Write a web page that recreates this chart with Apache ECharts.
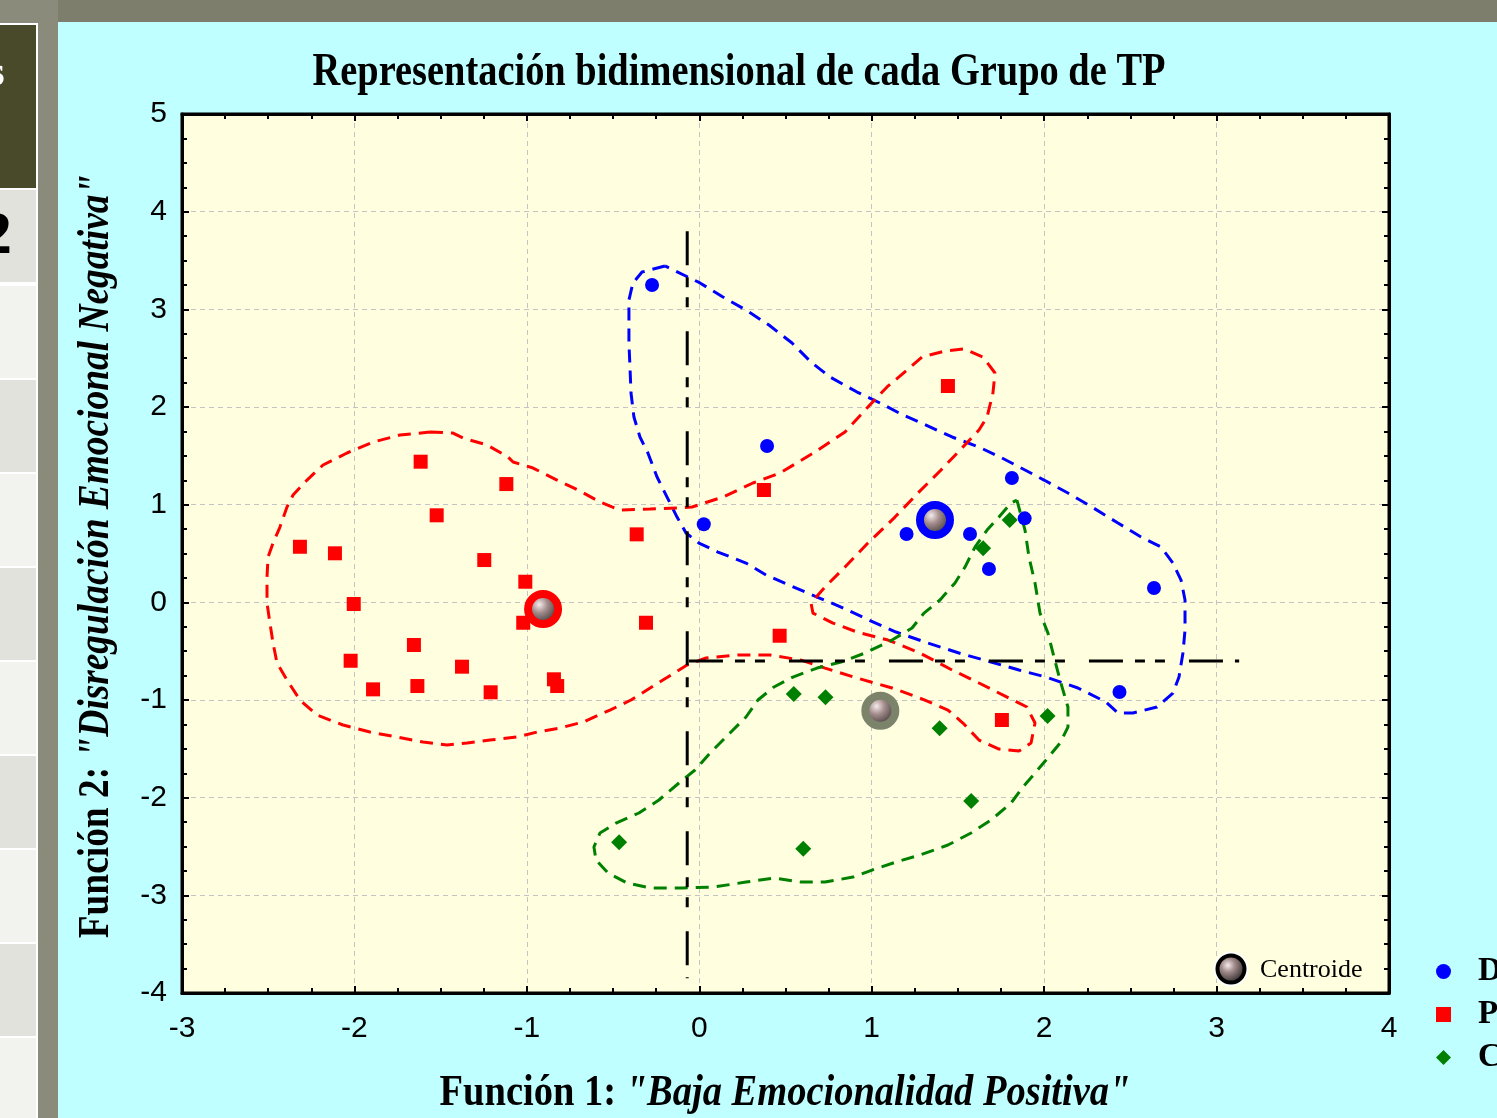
<!DOCTYPE html>
<html><head><meta charset="utf-8">
<script src="https://cdn.jsdelivr.net/npm/echarts@6/dist/echarts.min.js"></script>
<style>html,body{margin:0;padding:0;overflow:hidden;background:#bfffff}#c{width:1497px;height:1118px}</style>
</head><body><div id="c"></div>
<script>
// ---- data ----
const groupNames = ['D', 'P', 'C'];
const dX = [-0.274, 0.393, 0.026, 1.202, 1.570, 1.680, 1.813, 1.887, 2.637, 2.437];
const dY = [3.249, 1.600, 0.799, 0.699, 0.699, 0.341, 1.273, 0.860, 0.146, -0.918];
const pX = [-1.616, -1.119, -1.523, -2.316, -2.113, -1.247, -1.009, -2.004, -1.021, -0.363, -0.309, -1.655, -2.022, -1.376, -1.892, -1.635, -1.210, -0.843, -0.824, 1.442, 0.375, 0.466, 1.755];
const pY = [1.440, 1.211, 0.891, 0.569, 0.502, 0.433, 0.211, -0.017, -0.209, 0.696, -0.209, -0.437, -0.598, -0.659, -0.891, -0.857, -0.921, -0.788, -0.857, 2.215, 1.150, -0.342, -1.205];
const cX = [1.800, 1.646, 0.548, 0.732, 1.394, 2.020, 1.577, -0.465, 0.603];
const cY = [0.843, 0.553, -0.939, -0.973, -1.290, -1.164, -2.034, -2.457, -2.523];
const centroidX = [1.367, -0.906, 1.050];
const centroidY = [0.843, -0.069, -1.110];
const xTicks = [-3, -2, -1, 0, 1, 2, 3, 4];
const yTicks = [-4, -3, -2, -1, 0, 1, 2, 3, 4, 5];
const refVertical = [[-0.070, 3.80], [-0.070, -3.85]];
const refHorizontal = [[-0.060, -0.601], [3.131, -0.601]];
const blueContour = [[-0.199,3.444],[-0.332,3.382],[-0.385,3.270],[-0.408,3.096],[-0.408,2.921],[-0.408,2.655],[-0.402,2.409],[-0.396,2.143],[-0.379,1.897],[-0.344,1.693],[-0.298,1.529],[-0.245,1.283],[-0.187,1.078],[-0.129,0.873],[-0.077,0.710],[-0.002,0.607],[0.108,0.515],[0.271,0.402],[0.387,0.280],[0.520,0.177],[0.683,0.054],[0.822,-0.048],[0.984,-0.181],[1.141,-0.304],[1.326,-0.417],[1.506,-0.519],[1.692,-0.611],[1.854,-0.693],[2.011,-0.765],[2.196,-0.877],[2.359,-1.021],[2.428,-1.133],[2.515,-1.133],[2.654,-1.072],[2.747,-0.929],[2.782,-0.765],[2.805,-0.519],[2.817,-0.284],[2.817,0.024],[2.794,0.228],[2.747,0.402],[2.678,0.566],[2.562,0.669],[2.428,0.812],[2.277,0.976],[2.138,1.119],[1.999,1.252],[1.889,1.355],[1.755,1.478],[1.622,1.590],[1.466,1.693],[1.315,1.815],[1.181,1.918],[1.048,2.041],[0.915,2.153],[0.758,2.307],[0.648,2.460],[0.538,2.655],[0.404,2.839],[0.271,2.993],[0.137,3.126],[0.004,3.270],[-0.066,3.331],[-0.199,3.444]];
const redContour = [[-1.562,1.744],[-1.428,1.733],[-1.370,1.682],[-1.231,1.611],[-1.109,1.488],[-1.080,1.437],[-0.964,1.375],[-0.825,1.252],[-0.703,1.150],[-0.576,1.027],[-0.460,0.945],[-0.286,0.955],[-0.112,0.966],[-0.042,0.976],[0.137,1.078],[0.311,1.222],[0.468,1.324],[0.671,1.539],[0.845,1.744],[0.978,2.000],[1.089,2.205],[1.205,2.379],[1.292,2.512],[1.425,2.573],[1.535,2.594],[1.645,2.512],[1.715,2.348],[1.703,2.143],[1.669,1.897],[1.622,1.764],[1.512,1.559],[1.402,1.355],[1.268,1.119],[1.135,0.873],[0.978,0.607],[0.845,0.361],[0.729,0.157],[0.648,-0.007],[0.659,-0.110],[0.775,-0.212],[0.915,-0.304],[1.094,-0.386],[1.280,-0.519],[1.466,-0.693],[1.622,-0.826],[1.785,-0.970],[1.900,-1.072],[1.947,-1.236],[1.924,-1.441],[1.854,-1.523],[1.738,-1.502],[1.622,-1.410],[1.529,-1.236],[1.442,-1.103],[1.280,-0.980],[1.118,-0.877],[0.915,-0.775],[0.729,-0.673],[0.590,-0.591],[0.410,-0.540],[0.224,-0.540],[0.039,-0.570],[-0.071,-0.642],[-0.211,-0.796],[-0.396,-1.000],[-0.518,-1.103],[-0.674,-1.226],[-0.808,-1.287],[-0.941,-1.328],[-1.057,-1.379],[-1.214,-1.410],[-1.347,-1.441],[-1.463,-1.461],[-1.602,-1.431],[-1.753,-1.379],[-1.910,-1.328],[-2.066,-1.256],[-2.217,-1.154],[-2.316,-1.000],[-2.391,-0.796],[-2.449,-0.622],[-2.472,-0.417],[-2.490,-0.212],[-2.507,-0.007],[-2.507,0.259],[-2.501,0.464],[-2.472,0.607],[-2.432,0.771],[-2.391,0.976],[-2.356,1.099],[-2.275,1.252],[-2.182,1.406],[-2.043,1.529],[-1.892,1.641],[-1.736,1.713],[-1.562,1.744]];
const greenContour = [[1.842,1.047],[1.889,0.740],[1.912,0.464],[1.947,0.198],[1.976,-0.110],[2.022,-0.314],[2.057,-0.560],[2.092,-0.796],[2.138,-1.072],[2.138,-1.277],[2.092,-1.441],[2.011,-1.615],[1.947,-1.748],[1.877,-1.891],[1.808,-2.055],[1.692,-2.229],[1.576,-2.362],[1.442,-2.485],[1.280,-2.587],[1.141,-2.659],[1.002,-2.741],[0.891,-2.813],[0.729,-2.864],[0.590,-2.864],[0.433,-2.823],[0.271,-2.864],[0.085,-2.915],[-0.095,-2.925],[-0.280,-2.925],[-0.419,-2.874],[-0.529,-2.772],[-0.599,-2.639],[-0.611,-2.505],[-0.576,-2.362],[-0.483,-2.260],[-0.350,-2.157],[-0.234,-2.024],[-0.118,-1.850],[-0.025,-1.717],[0.062,-1.543],[0.178,-1.338],[0.271,-1.174],[0.340,-1.000],[0.433,-0.867],[0.543,-0.765],[0.683,-0.673],[0.822,-0.611],[0.961,-0.519],[1.118,-0.386],[1.234,-0.263],[1.303,-0.110],[1.396,0.024],[1.483,0.198],[1.541,0.361],[1.599,0.566],[1.669,0.740],[1.738,0.873],[1.808,1.017],[1.842,1.047]];

// ---- styles ----
const BLUE = '#0000ff', RED = '#ff0000', GREEN = '#008000';
const ringColors = [BLUE, RED, '#7c836b'];
const sphere = () => new echarts.graphic.RadialGradient(0.4, 0.38, 0.62, [
  {offset: 0, color: '#f6ecec'}, {offset: 0.35, color: '#a48c8c'},
  {offset: 0.8, color: '#4a4242'}, {offset: 1, color: '#2e2a2a'}]);
const pairs = (xs, ys) => xs.map((x, i) => [x, ys[i]]);
const contourStyle = c => ({color: c, width: 3, type: [13, 8]});
const refStyle = {color: '#000', width: 3, type: [34, 12, 10, 10, 10, 24]};

const chart = echarts.init(document.getElementById('c'), null, {renderer: 'canvas'});

const axisCommon = {
  type: 'value', interval: 1,
  axisLine: {show: true, onZero: false, lineStyle: {color: '#000', width: 3}},
  axisTick: {show: true, inside: true, length: 7, lineStyle: {color: '#000', width: 2}},
  minorTick: {show: true, splitNumber: 4, length: 5, lineStyle: {color: '#000', width: 2}},
};
const labelStyle = {color: '#000', fontFamily: '"Liberation Sans", Arial', fontSize: 30};
const gridLine = {show: true, lineStyle: {color: '#c4c4c4', width: 1, type: [5, 4]}};

const rows = [];
const rowTops = [190, 286, 380, 474, 568, 662, 756, 850, 944, 1038];
rowTops.forEach((t, i) => rows.push({type: 'rect', shape: {x: 0, y: t, width: 36, height: 92},
  style: {fill: i % 2 === 0 ? '#e1e2db' : '#f2f2ee'}, silent: true}));

const lineSeries = (data, style) => ({type: 'line', data, symbol: 'none', showSymbol: false,
  lineStyle: style, silent: true, z: 2, animation: false});

chart.setOption({
  backgroundColor: '#bfffff',
  animation: false,
  grid: {left: 182, right: 108, top: 114, bottom: 125, show: true,
    backgroundColor: '#ffffe0', borderColor: '#000', borderWidth: 3, outerBoundsMode: 'none'},
  xAxis: [
    Object.assign({}, axisCommon, {position: 'bottom', min: xTicks[0], max: xTicks[xTicks.length - 1],
      axisLabel: Object.assign({margin: 21}, labelStyle), splitLine: gridLine}),
    Object.assign({}, axisCommon, {position: 'top', min: xTicks[0], max: xTicks[xTicks.length - 1],
      axisLabel: {show: false}, splitLine: {show: false}})
  ],
  yAxis: [
    Object.assign({}, axisCommon, {position: 'left', min: yTicks[0], max: yTicks[yTicks.length - 1],
      axisLabel: Object.assign({margin: 15}, labelStyle), splitLine: gridLine}),
    Object.assign({}, axisCommon, {position: 'right', min: yTicks[0], max: yTicks[yTicks.length - 1],
      axisLabel: {show: false}, splitLine: {show: false}})
  ],
  legend: {
    data: groupNames, orient: 'vertical', left: 1431, top: 950,
    itemWidth: 15, itemHeight: 15, itemGap: 10, selectedMode: false,
    textStyle: {fontFamily: '"Liberation Serif", "Times New Roman"', fontWeight: 'bold', fontSize: 33,
      color: '#000', lineHeight: 31, padding: [0, 0, 0, 22]}
  },
  series: [
    lineSeries(blueContour, contourStyle(BLUE)),
    lineSeries(redContour, contourStyle(RED)),
    lineSeries(greenContour, contourStyle(GREEN)),
    lineSeries(refVertical, refStyle),
    lineSeries(refHorizontal, refStyle),
    {name: groupNames[0], type: 'scatter', symbol: 'circle', symbolSize: 14, data: pairs(dX, dY),
      itemStyle: {color: BLUE, opacity: 1}, z: 5},
    {name: groupNames[1], type: 'scatter', symbol: 'rect', symbolSize: 14, data: pairs(pX, pY),
      itemStyle: {color: RED, opacity: 1}, z: 5},
    {name: groupNames[2], type: 'scatter', symbol: 'diamond', symbolSize: 16, data: pairs(cX, cY),
      itemStyle: {color: GREEN, opacity: 1}, z: 5},
    {name: 'Centroide', type: 'scatter', symbol: 'circle', symbolSize: 30, z: 6,
      data: centroidX.map((x, i) => ({value: [x, centroidY[i]], itemStyle: {borderColor: ringColors[i]}})),
      itemStyle: {color: sphere(), borderWidth: 8, opacity: 1}}
  ],
  graphic: [
    {type: 'rect', shape: {x: 0, y: 0, width: 1497, height: 22}, style: {fill: '#7e7e6d'}, silent: true},
    {type: 'rect', shape: {x: 0, y: 0, width: 58, height: 1118}, style: {fill: '#8a8b7b'}, silent: true},
    {type: 'rect', shape: {x: 0, y: 23, width: 38, height: 1095}, style: {fill: '#ffffff'}, silent: true},
    {type: 'rect', shape: {x: 0, y: 25, width: 36, height: 163}, style: {fill: '#484a29'}, silent: true},
    ...rows,
    {type: 'text', x: -11, y: 75, silent: true,
      style: {text: 's', fill: '#ffffff', fontSize: 40, fontWeight: 'bold', fontFamily: '"Liberation Serif"', verticalAlign: 'middle'}},
    {type: 'text', x: -19, y: 237, silent: true,
      style: {text: '2', fill: '#000', fontSize: 62, fontWeight: 'bold', fontFamily: '"Liberation Serif"', verticalAlign: 'middle'}},
    {type: 'text', x: 739, y: 73, scaleX: 0.835, z: 10, silent: true,
      style: {text: 'Representación bidimensional de cada Grupo de TP', fill: '#000', fontSize: 46,
        fontWeight: 'bold', fontFamily: '"Liberation Serif"', align: 'center', verticalAlign: 'middle'}},
    {type: 'text', x: 785, y: 1094, scaleX: 0.875, z: 10, silent: true,
      style: {text: '{a|Función 1: }{b|"Baja Emocionalidad Positiva"}', fill: '#000', align: 'center', verticalAlign: 'middle',
        rich: {a: {fontSize: 44, fontWeight: 'bold', fontFamily: '"Liberation Serif"', fill: '#000'},
               b: {fontSize: 44, fontWeight: 'bold', fontStyle: 'italic', fontFamily: '"Liberation Serif"', fill: '#000'}}}},
    {type: 'text', x: 97, y: 556, rotation: Math.PI / 2, scaleX: 0.85, z: 10, silent: true,
      style: {text: '{a|Función 2: }{b|"Disregulación Emocional Negativa"}', fill: '#000', align: 'center', verticalAlign: 'middle',
        rich: {a: {fontSize: 44, fontWeight: 'bold', fontFamily: '"Liberation Serif"', fill: '#000'},
               b: {fontSize: 44, fontWeight: 'bold', fontStyle: 'italic', fontFamily: '"Liberation Serif"', fill: '#000'}}}},
    {type: 'circle', shape: {cx: 1231, cy: 969, r: 16.5}, z: 20, silent: true,
      style: {fill: 'none', stroke: '#ffffff', lineWidth: 2}},
    {type: 'circle', shape: {cx: 1231, cy: 969, r: 13.5}, z: 21, silent: true,
      style: {fill: sphere(), stroke: '#000', lineWidth: 4}},
    {type: 'text', x: 1260, y: 970, z: 21, silent: true,
      style: {text: 'Centroide', fill: '#000', fontSize: 26, fontFamily: '"Liberation Serif"', verticalAlign: 'middle'}}
  ]
});
</script></body></html>
